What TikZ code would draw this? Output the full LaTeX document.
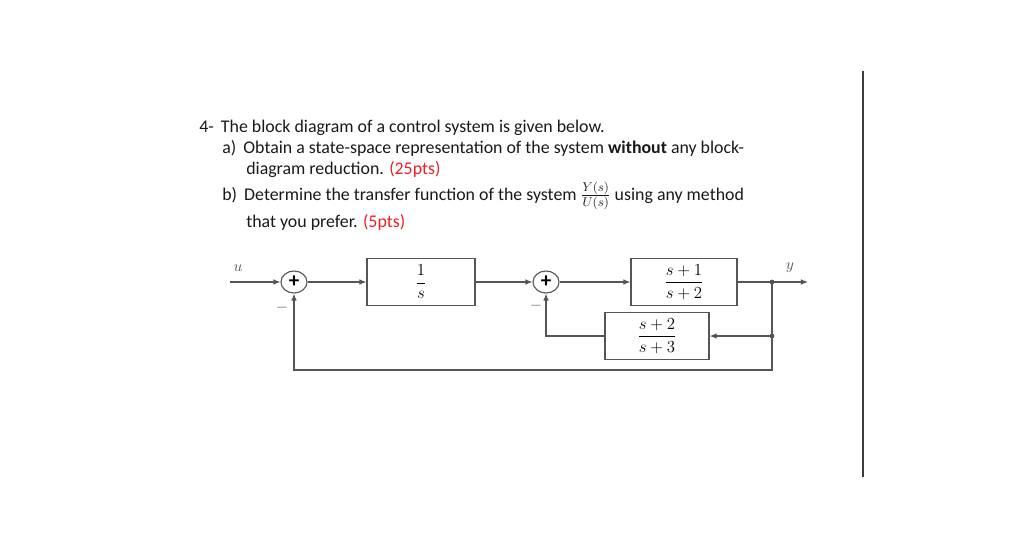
\documentclass[tikz,border=0pt]{standalone}
\usepackage{amsmath}
\usepackage{fontspec}
\setmainfont{Carlito}
\usetikzlibrary{arrows.meta,shapes.geometric}
\definecolor{ptsred}{RGB}{235,30,35}
\definecolor{wire}{RGB}{85,85,85}
\definecolor{ink}{RGB}{25,25,25}
\begin{document}
\begin{tikzpicture}[x=0.025cm,y=-0.025cm,
  txt/.style={anchor=base west,inner sep=0pt,text=ink,font=\fontsize{12.7}{15}\selectfont},
  blk/.style={draw=wire,line width=0.8pt,minimum height=1.175cm,inner sep=0pt,font=\fontsize{11.5}{13}\selectfont},
  sumnode/.style={draw=wire,line width=0.8pt,ellipse,minimum width=0.65cm,minimum height=0.55cm,inner sep=0pt,font=\bfseries\fontsize{15}{15}\selectfont},
  sig/.style={draw=wire,line width=0.8pt,-{Latex[length=5pt,width=4pt]}},
  wireline/.style={draw=wire,line width=0.8pt},
  lbl/.style={inner sep=0pt,text=wire,font=\fontsize{11}{13}\selectfont}]
\useasboundingbox (0,0) rectangle (1024,534);
% question text
\node[txt] (q) at (199,132) {4-\hspace{0.4em}The block diagram of a control system is given below.};
\node[txt] (qa) at (222,153) {a)\hspace{0.4em}Obtain a state-space representation of the system \textbf{without} any block-};
\node[txt] (qa2) at (246,174) {diagram reduction. \textcolor{ptsred}{(25pts)}};
\node[txt] (qb) at (222,200) {b)\hspace{0.4em}Determine the transfer function of the system \(\frac{Y(s)}{U(s)}\) using any method};
\node[txt] (qb2) at (246,227) {that you prefer. \textcolor{ptsred}{(5pts)}};
% blocks
\node[sumnode] (sa) at (294,282) {+};
\node[sumnode] (sb) at (546,282) {+};
\node[blk,minimum width=2.7cm] (bint) at (421,282) {$\dfrac{1}{s}$};
\node[blk,minimum width=2.65cm] (bplant) at (684,282) {$\dfrac{s+1}{s+2}$};
\node[blk,minimum width=2.6cm] (bfb) at (657,336) {$\dfrac{s+2}{s+3}$};
\coordinate (in) at (230,282);
\coordinate (out) at (808,282);
\coordinate (br1) at (772,282);
\coordinate (br2) at (772,336);
\coordinate (loop) at (772,370);
% labels
\node[lbl] (ulbl) at (238,268) {$u$};
\node[lbl] (ylbl) at (790,268) {$y$};
\node[lbl] (ma) at (282,308) {$-$};
\node[lbl] (mb) at (536,306) {$-$};
% signals
\draw[sig] (in) -- (sa.west);
\draw[sig] (sa.east) -- (bint.west);
\draw[sig] (bint.east) -- (sb.west);
\draw[sig] (sb.east) -- (bplant.west);
\draw[sig] (bplant.east) -- (out);
\draw[wireline] (br1) -- (br2);
\draw[sig] (br2) -- (bfb.east);
\draw[sig] (bfb.west) -| (sb.south);
\draw[sig] (br2) -- (loop) -| (sa.south);
\fill[wire] (br1) circle (2.4);
\fill[wire] (br2) circle (2.4);
% page rule
\draw[line width=1.6pt,color=ink!85] (863,71) -- (863,477);
\end{tikzpicture}
\end{document}
